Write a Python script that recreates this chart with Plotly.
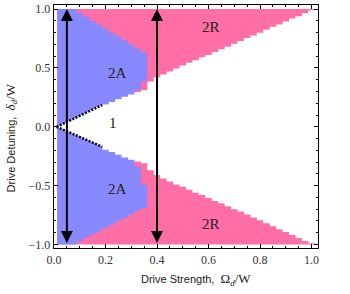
import plotly.graph_objects as go

# ---- data ----
STEP = 0.025
COL_X = [round(STEP * k, 4) for k in range(1, 41)]   # column centres 0.025 .. 1.0

# top of the white "1" region, upper half (columns 8..40)
W_UP = [0.19, 0.21, 0.235, 0.255, 0.275, 0.295, 0.31, 0.385, 0.42, 0.445, 0.47, 0.495,
        0.52, 0.545, 0.565, 0.59, 0.61, 0.635, 0.66, 0.68, 0.705, 0.73, 0.755, 0.775,
        0.80, 0.825, 0.85, 0.87, 0.895, 0.92, 0.94, 0.965, 0.99]
# magnitude of bottom of white region, lower half (columns 8..40)
W_LO = [0.195, 0.215, 0.237, 0.26, 0.28, 0.295, 0.31, 0.37, 0.41, 0.44, 0.465, 0.49,
        0.51, 0.535, 0.56, 0.58, 0.605, 0.63, 0.65, 0.675, 0.70, 0.72, 0.745, 0.77,
        0.795, 0.82, 0.845, 0.87, 0.895, 0.92, 0.945, 0.97, 0.99]

# blue "2A" region, columns 1..14
BLUE_UP_TOP = [1.0, 1.0, 1.0, 0.97, 0.935, 0.90, 0.87, 0.835, 0.80, 0.77, 0.735, 0.70, 0.665, 0.63]
BLUE_UP_BOT = [0, 0, 0, 0, 0, 0, 0, 0, 0, 0, 0, 0, 0.31, 0.385]
BLUE_LO_BOT = [1.0, 1.0, 1.0, 0.975, 0.945, 0.915, 0.89, 0.86, 0.83, 0.80, 0.775, 0.745, 0.715, 0.69]
BLUE_LO_TOP = [0, 0, 0, 0, 0, 0, 0, 0, 0, 0, 0, 0, 0.34, 0.49]

# dotted boundary lines near the origin
DOT_X = [0.01, 0.1875]
DOT_UP_Y = [0.0, 0.185]
DOT_LO_Y = [0.0, -0.17]

ARROW_X = [0.05, 0.4]

LABELS = ["2R", "2A", "1", "2A", "2R"]
LABEL_X = [0.61, 0.245, 0.228, 0.245, 0.61]
LABEL_Y = [0.85, 0.46, 0.03, -0.53, -0.83]

X_TITLE = 'Drive Strength,  <span style="font-family:Liberation Serif;font-size:13px">Ω<sub><i>d</i></sub>/W</span>'
Y_TITLE = 'Drive Detuning,  <span style="font-family:Liberation Serif;font-size:13px"><i>δ</i><sub><i>d</i></sub>/W</span>'

PINK = "#FF6FA6"
BLUE = "#8888FF"

half = STEP / 2


def step_poly(xs, top, bot):
    px, py = [], []
    for x, t in zip(xs, top):
        px += [x - half, x + half]
        py += [t, t]
    for x, b in zip(reversed(xs), reversed(bot)):
        px += [x + half, x - half]
        py += [b, b]
    return px, py


fig = go.Figure()

# pink "2R" background block
fig.add_trace(go.Scatter(x=[COL_X[0] - half, COL_X[-1] + half, COL_X[-1] + half, COL_X[0] - half],
                         y=[-1, -1, 1, 1], fill="toself", fillcolor=PINK, mode="lines",
                         line=dict(width=0), hoverinfo="skip", showlegend=False))

nb = len(BLUE_UP_TOP)
px, py = step_poly(COL_X[:nb], BLUE_UP_TOP, BLUE_UP_BOT)
fig.add_trace(go.Scatter(x=px, y=py, fill="toself", fillcolor=BLUE, mode="lines",
                         line=dict(width=0), hoverinfo="skip", showlegend=False))
px, py = step_poly(COL_X[:nb], [-v for v in BLUE_LO_TOP], [-v for v in BLUE_LO_BOT])
fig.add_trace(go.Scatter(x=px, y=py, fill="toself", fillcolor=BLUE, mode="lines",
                         line=dict(width=0), hoverinfo="skip", showlegend=False))

# white "1" wedge
cols = COL_X[7:]
wx = [DOT_X[0], DOT_X[1]]
wy = [DOT_UP_Y[0], DOT_UP_Y[1]]
for x, t in zip(cols, W_UP):
    wx += [x - half, x + half]
    wy += [t, t]
wx += [1.05, 1.05]
wy += [W_UP[-1], -W_LO[-1]]
for x, b in zip(reversed(cols), reversed(W_LO)):
    wx += [x + half, x - half]
    wy += [-b, -b]
wx += [DOT_X[1], DOT_X[0]]
wy += [DOT_LO_Y[1], DOT_LO_Y[0]]
fig.add_trace(go.Scatter(x=wx, y=wy, fill="toself", fillcolor="white", mode="lines",
                         line=dict(width=0), hoverinfo="skip", showlegend=False))

for yy in (DOT_UP_Y, DOT_LO_Y):
    fig.add_trace(go.Scatter(x=DOT_X, y=yy, mode="lines",
                             line=dict(color="black", width=2.5, dash="2px,1.5px"),
                             hoverinfo="skip", showlegend=False))

for ax_x in ARROW_X:
    fig.add_annotation(x=ax_x, y=1.0, ax=ax_x, ay=-1.0, xref="x", yref="y",
                       axref="x", ayref="y", text="", showarrow=True,
                       arrowhead=2, arrowside="end+start", arrowsize=1.2,
                       arrowwidth=2, arrowcolor="black", standoff=0, startstandoff=0)

for t, x, y in zip(LABELS, LABEL_X, LABEL_Y):
    fig.add_annotation(x=x, y=y, xref="x", yref="y", text=t, showarrow=False,
                       font=dict(family="Liberation Serif", size=15, color="#222"))

# axis titles placed in paper coordinates
fig.add_annotation(x=0.538, y=-0.128, xref="paper", yref="paper", text=X_TITLE,
                   showarrow=False, xanchor="center", yanchor="middle",
                   font=dict(family="Liberation Sans", size=11, color="#222"))
fig.add_annotation(x=-0.163, y=0.455, xref="paper", yref="paper", text=Y_TITLE,
                   showarrow=False, xanchor="center", yanchor="middle", textangle=-90,
                   font=dict(family="Liberation Sans", size=11, color="#222"))

tickfont = dict(family="Liberation Serif", size=12, color="#333")
fig.update_xaxes(range=[0.0, 1.025], tickvals=[0, 0.2, 0.4, 0.6, 0.8, 1.0],
                 ticktext=["0.0", "0.2", "0.4", "0.6", "0.8", "1.0"],
                 ticks="inside", ticklen=4, tickwidth=1, tickcolor="black",
                 minor=dict(ticks="inside", dtick=0.05, ticklen=2, tickcolor="black", showgrid=False),
                 showline=True, linecolor="black", linewidth=1.3, mirror="ticks",
                 showgrid=False, zeroline=False, tickfont=tickfont, automargin=False)
fig.update_yaxes(range=[-1.03, 1.035], tickvals=[-1, -0.5, 0, 0.5, 1.0],
                 ticktext=["\u22121.0", "\u22120.5", "0.0", "0.5", "1.0"],
                 ticks="inside", ticklen=4, tickwidth=1, tickcolor="black",
                 minor=dict(ticks="inside", dtick=0.1, ticklen=2, tickcolor="black", showgrid=False),
                 showline=True, linecolor="black", linewidth=1.3, mirror="ticks",
                 showgrid=False, zeroline=False, tickfont=tickfont, automargin=False)

fig.update_layout(width=350, height=294, margin=dict(l=54, r=32, t=5, b=46),
                  paper_bgcolor="white", plot_bgcolor="white")

fig.write_html("out.html", config={"displayModeBar": False, "staticPlot": True},
               post_script="document.body.style.margin='0';document.body.style.overflow='hidden';")
